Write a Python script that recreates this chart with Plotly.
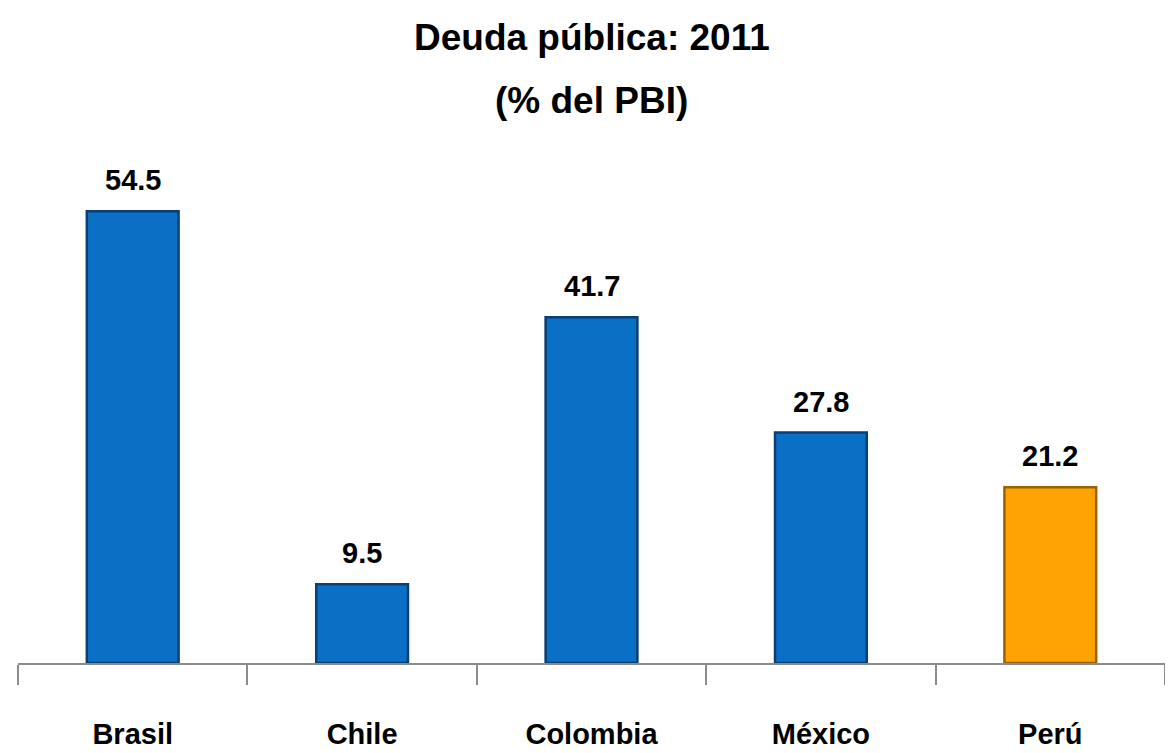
import plotly.graph_objects as go

paises = ["Brasil", "Chile", "Colombia", "México", "Perú"]
deuda = [54.5, 9.5, 41.7, 27.8, 21.2]
colores = ["#0A70C6", "#0A70C6", "#0A70C6", "#0A70C6", "#FFA305"]
bordes = ["#0B3F73", "#0B3F73", "#0B3F73", "#0B3F73", "#9A6200"]

FONT = "Liberation Sans, Arial, sans-serif"

fig = go.Figure(
    go.Bar(
        x=paises,
        y=deuda,
        width=0.4,
        marker=dict(color=colores, line=dict(color=bordes, width=2.5)),
        hoverinfo="x+y",
    )
)

# etiquetas de valor sobre cada barra
for p, v in zip(paises, deuda):
    fig.add_annotation(
        x=p, y=v, text=f"<b>{v:.1f}</b>", showarrow=False,
        yanchor="bottom", yshift=13,
        font=dict(family=FONT, size=29, color="black"),
    )

# titulo en dos lineas
fig.add_annotation(
    text="<b>Deuda pública: 2011</b>", xref="paper", yref="paper",
    x=0.5, y=1.0, yanchor="middle", yshift=103, showarrow=False,
    font=dict(family=FONT, size=37, color="black"),
)
fig.add_annotation(
    text="<b>(% del PBI)</b>", xref="paper", yref="paper",
    x=0.5, y=1.0, yanchor="middle", yshift=40, showarrow=False,
    font=dict(family=FONT, size=37, color="black"),
)

fig.update_layout(
    width=1173,
    height=753,
    margin=dict(l=10, r=16, t=132, b=98),
    paper_bgcolor="white",
    plot_bgcolor="white",
    showlegend=False,
    font=dict(family=FONT, color="black"),
)
fig.update_xaxes(
    automargin=False,
    showline=True, linecolor="#8C8C8C", linewidth=2,
    ticks="outside", tickson="boundaries", ticklen=20, tickwidth=2,
    tickcolor="#8C8C8C", ticklabelstandoff=44,
    tickfont=dict(family=FONT, size=29, color="black"),
    tickprefix="<b>", ticksuffix="</b>",
)
fig.update_yaxes(
    range=[0, 63.1], visible=False, showgrid=False, zeroline=False,
)

fig.write_html("out.html")
